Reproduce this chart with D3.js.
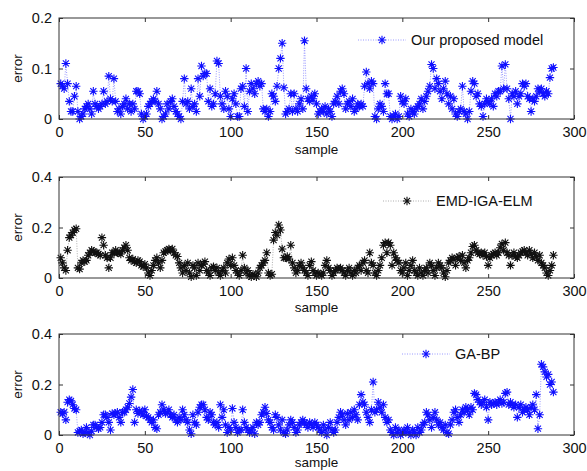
<!DOCTYPE html>
<html>
<head>
<meta charset="utf-8">
<script src="https://cdn.jsdelivr.net/npm/d3@7"></script>
<style>
  body { margin: 0; background: #fff; }
  text { font-family: Arial, "Liberation Sans", sans-serif; }
</style>
</head>
<body>
<div id="chart"></div>
<script>
// error per sample (samples 1..288)
const ourModel = [
  0.07, 0.065, 0.06, 0.11, 0.07, 0.035, 0.015, 0.015, 0.045, 0.065,
  0.015, 0.0, 0.005, 0.01, 0.02, 0.025, 0.03, 0.02, 0.01, 0.055,
  0.03, 0.025, 0.02, 0.025, 0.03, 0.055, 0.03, 0.035, 0.085, 0.04,
  0.035, 0.08, 0.035, 0.015, 0.02, 0.01, 0.025, 0.03, 0.04, 0.02,
  0.03, 0.015, 0.03, 0.02, 0.055, 0.055, 0.05, 0.01, 0.0, 0.005,
  0.01, 0.025, 0.03, 0.035, 0.04, 0.035, 0.055, 0.03, 0.02, 0.0,
  0.005, 0.01, 0.03, 0.02, 0.035, 0.04, 0.025, 0.015, 0.01, 0.005,
  0.0, 0.035, 0.08, 0.03, 0.035, 0.02, 0.06, 0.025, 0.03, 0.015,
  0.08, 0.045, 0.105, 0.085, 0.09, 0.09, 0.035, 0.06, 0.025, 0.03,
  0.05, 0.115, 0.11, 0.045, 0.03, 0.02, 0.055, 0.045, 0.02, 0.005,
  0.04, 0.05, 0.03, 0.005, 0.005, 0.06, 0.065, 0.025, 0.1, 0.015,
  0.055, 0.07, 0.06, 0.05, 0.07, 0.075, 0.065, 0.07, 0.02, 0.015,
  0.02, 0.005, 0.015, 0.05, 0.045, 0.035, 0.065, 0.1, 0.12, 0.15,
  0.062, 0.01, 0.015, 0.02, 0.05, 0.015, 0.05, 0.02, 0.015, 0.03,
  0.04, 0.02, 0.155, 0.06, 0.04, 0.035, 0.045, 0.04, 0.05, 0.03,
  0.01, 0.015, 0.02, 0.015, 0.025, 0.01, 0.02, 0.015, 0.005, 0.03,
  0.035, 0.045, 0.03, 0.055, 0.06, 0.05, 0.02, 0.03, 0.035, 0.025,
  0.04, 0.015, 0.02, 0.03, 0.025, 0.03, 0.025, 0.065, 0.093, 0.07,
  0.06, 0.075, 0.07, 0.005, 0.0, 0.02, 0.03, 0.025, 0.015, 0.07,
  0.05, 0.05, 0.005, 0.0, 0.005, 0.01, 0.0, 0.005, 0.045, 0.035,
  0.03, 0.04, 0.01, 0.005, 0.02, 0.015, 0.01, 0.02, 0.025, 0.03,
  0.04, 0.02, 0.035, 0.045, 0.055, 0.065, 0.108, 0.1, 0.06, 0.08,
  0.07, 0.055, 0.04, 0.06, 0.075, 0.05, 0.03, 0.045, 0.02, 0.04,
  0.01, 0.005, 0.015, 0.02, 0.065, 0.015, 0.01, 0.0, 0.015, 0.055,
  0.075, 0.07, 0.045, 0.05, 0.03, 0.025, 0.005, 0.03, 0.04, 0.035,
  0.03, 0.04, 0.025, 0.05, 0.045, 0.055, 0.055, 0.105, 0.06, 0.108,
  0.06, 0.04, 0.0, 0.05, 0.045, 0.055, 0.03, 0.045, 0.05, 0.07,
  0.065, 0.07, 0.045, 0.04, 0.015, 0.04, 0.035, 0.045, 0.06, 0.055,
  0.06, 0.05, 0.045, 0.055, 0.05, 0.082, 0.1, 0.102
];

const emdIgaElm = [
  0.08, 0.06, 0.04, 0.03, 0.11, 0.16, 0.17, 0.18, 0.19, 0.195,
  0.04, 0.035, 0.06, 0.07, 0.065, 0.07, 0.09, 0.1, 0.11, 0.105,
  0.1, 0.1, 0.095, 0.09, 0.16, 0.13, 0.09, 0.08, 0.04, 0.08,
  0.1, 0.1, 0.11, 0.1, 0.1, 0.095, 0.11, 0.12, 0.13, 0.11,
  0.08, 0.07, 0.075, 0.065, 0.06, 0.07, 0.065, 0.05, 0.045, 0.055,
  0.04, 0.02, 0.01, 0.03, 0.05, 0.07, 0.08, 0.06, 0.04, 0.07,
  0.1, 0.105, 0.11, 0.115, 0.11, 0.115, 0.1, 0.09, 0.085, 0.06,
  0.04, 0.02, 0.05, 0.03, 0.06, 0.02, 0.005, 0.05, 0.04, 0.01,
  0.06, 0.03, 0.05, 0.055, 0.065, 0.03, 0.02, 0.01, 0.04, 0.045,
  0.03, 0.04, 0.02, 0.01, 0.03, 0.04, 0.02, 0.06, 0.075, 0.05,
  0.08, 0.05, 0.03, 0.02, 0.01, 0.03, 0.09, 0.04, 0.02, 0.03,
  0.01, 0.005, 0.015, 0.01, 0.005, 0.02, 0.04, 0.05, 0.06, 0.07,
  0.1, 0.02, 0.01, 0.015, 0.15, 0.18, 0.17, 0.21, 0.19, 0.115,
  0.08, 0.08, 0.085, 0.075, 0.13, 0.06, 0.04, 0.02, 0.03, 0.05,
  0.06, 0.04, 0.03, 0.02, 0.01, 0.05, 0.065, 0.03, 0.02, 0.01,
  0.02, 0.015, 0.01, 0.02, 0.05, 0.07, 0.04, 0.03, 0.01, 0.02,
  0.03, 0.04, 0.035, 0.04, 0.03, 0.02, 0.01, 0.03, 0.04, 0.02,
  0.01, 0.03, 0.02, 0.04, 0.05, 0.03, 0.06, 0.07, 0.03, 0.02,
  0.1, 0.06, 0.05, 0.02, 0.01, 0.03, 0.05, 0.08, 0.13, 0.14,
  0.1, 0.14, 0.13, 0.05, 0.1, 0.08, 0.07, 0.06, 0.03, 0.02,
  0.04, 0.06, 0.01, 0.03, 0.05, 0.07, 0.03, 0.02, 0.01, 0.04,
  0.02, 0.01, 0.03, 0.04, 0.02, 0.06, 0.05, 0.03, 0.01, 0.04,
  0.06, 0.05, 0.04, 0.02, 0.005, 0.03, 0.06, 0.07, 0.08, 0.075,
  0.05, 0.08, 0.085, 0.07, 0.09, 0.06, 0.04, 0.07, 0.08, 0.1,
  0.125, 0.13, 0.11, 0.1, 0.095, 0.1, 0.09, 0.1, 0.085, 0.05,
  0.08, 0.09, 0.095, 0.1, 0.09, 0.1, 0.12, 0.135, 0.11, 0.14,
  0.1, 0.09, 0.05, 0.09, 0.1, 0.085, 0.08, 0.09, 0.1, 0.105,
  0.11, 0.1, 0.09, 0.11, 0.095, 0.08, 0.1, 0.085, 0.07, 0.09,
  0.06, 0.05, 0.04, 0.02, 0.01, 0.03, 0.05, 0.09
];

const gaBp = [
  0.09, 0.085, 0.09, 0.06, 0.13, 0.14, 0.135, 0.12, 0.105, 0.1,
  0.01, 0.015, 0.02, 0.005, 0.01, 0.03, 0.01, 0.0, 0.015, 0.04,
  0.04, 0.03, 0.025, 0.03, 0.05, 0.08, 0.08, 0.07, 0.05, 0.02,
  0.085, 0.08, 0.085, 0.09, 0.07, 0.05, 0.09, 0.09, 0.1, 0.11,
  0.125, 0.15, 0.18, 0.05, 0.1, 0.085, 0.095, 0.09, 0.08, 0.1,
  0.075, 0.07, 0.06, 0.05, 0.06, 0.03, 0.025, 0.08, 0.09, 0.12,
  0.1, 0.085, 0.09, 0.1, 0.08, 0.07, 0.08, 0.06, 0.05, 0.07,
  0.06, 0.1, 0.08, 0.06, 0.05, 0.02, 0.005, 0.08, 0.05, 0.04,
  0.09, 0.11, 0.12, 0.12, 0.1, 0.07, 0.06, 0.09, 0.08, 0.05,
  0.04, 0.05, 0.03, 0.12, 0.07, 0.1, 0.04, 0.01, 0.03, 0.02,
  0.105, 0.05, 0.03, 0.01, 0.02, 0.02, 0.1, 0.05, 0.03, 0.02,
  0.01, 0.02, 0.03, 0.005, 0.05, 0.04, 0.05, 0.08, 0.09, 0.11,
  0.085, 0.06, 0.05, 0.03, 0.02, 0.08, 0.07, 0.04, 0.02, 0.06,
  0.01, 0.005, 0.02, 0.04, 0.06, 0.05, 0.03, 0.01, 0.02, 0.04,
  0.05, 0.06, 0.05, 0.04, 0.03, 0.05, 0.04, 0.03, 0.05, 0.04,
  0.03, 0.02, 0.01, 0.04, 0.02, 0.0, 0.03, 0.05, 0.02, 0.01,
  0.02, 0.05, 0.07, 0.09, 0.08, 0.06, 0.04, 0.085, 0.06, 0.09,
  0.07, 0.1, 0.08, 0.06, 0.12, 0.16, 0.13, 0.12, 0.09, 0.07,
  0.05, 0.1, 0.21, 0.09, 0.1, 0.13, 0.11, 0.09, 0.12, 0.07,
  0.05, 0.06, 0.02, 0.01, 0.0, 0.03, 0.01, 0.02, 0.0, 0.01,
  0.02, 0.01, 0.03, 0.01, 0.0, 0.02, 0.01, 0.0, 0.03, 0.01,
  0.02, 0.04, 0.05, 0.09, 0.08, 0.06, 0.03, 0.07, 0.09, 0.06,
  0.04, 0.05, 0.03, 0.02, 0.04, 0.01, 0.005, 0.04, 0.06, 0.09,
  0.1, 0.07, 0.05, 0.08, 0.1, 0.09, 0.11, 0.1, 0.08, 0.11,
  0.1, 0.165, 0.16, 0.14, 0.13, 0.12, 0.13, 0.14, 0.11, 0.06,
  0.13, 0.12, 0.125, 0.13, 0.12, 0.13, 0.14, 0.125, 0.13, 0.165,
  0.17, 0.12, 0.13, 0.12, 0.11, 0.12, 0.07, 0.11, 0.12, 0.09,
  0.1, 0.11, 0.1, 0.08, 0.11, 0.12, 0.1, 0.16, 0.025, 0.08,
  0.28, 0.27, 0.25, 0.23, 0.24, 0.2, 0.21, 0.17
];

const xTicks = [0, 50, 100, 150, 200, 250, 300];

const panels = [
  { name: "Our proposed model", values: ourModel, yMax: 0.2, yTicks: [0, 0.1, 0.2],
    color: "#1010ff", lineColor: "#8080ff", top: 18, legendX: 358, legendY: 40, sampleY: 154 },
  { name: "EMD-IGA-ELM", values: emdIgaElm, yMax: 0.4, yTicks: [0, 0.2, 0.4],
    color: "#111111", lineColor: "#999999", top: 177, legendX: 383, legendY: 201, sampleY: 312 },
  { name: "GA-BP", values: gaBp, yMax: 0.4, yTicks: [0, 0.2, 0.4],
    color: "#1010ff", lineColor: "#8080ff", top: 334, legendX: 402, legendY: 354, sampleY: 467 }
];

const width = 587, height = 471;
const left = 59, right = 574, plotH = 101;

const svg = d3.select("#chart").append("svg")
  .attr("width", width)
  .attr("height", height);

const x = d3.scaleLinear().domain([0, 300]).range([left, right]);

// matlab style '*' marker: plus + cross
function star(cx, cy, r) {
  const d = r * 0.72;
  return `M${cx - r},${cy}L${cx + r},${cy}M${cx},${cy - r}L${cx},${cy + r}` +
    `M${cx - d},${cy - d}L${cx + d},${cy + d}M${cx - d},${cy + d}L${cx + d},${cy - d}`;
}

panels.forEach(p => {
  const y = d3.scaleLinear().domain([0, p.yMax]).range([p.top + plotH, p.top]);
  const g = svg.append("g");
  const pts = p.values.map((v, i) => [i + 1, v]);

  // dotted connecting line
  g.append("path")
    .datum(pts)
    .attr("fill", "none")
    .attr("stroke", p.lineColor)
    .attr("stroke-width", 0.8)
    .attr("stroke-dasharray", "1,1.5")
    .attr("d", d3.line().x(d => x(d[0])).y(d => y(d[1])));

  g.append("g")
    .selectAll("path")
    .data(pts)
    .join("path")
    .attr("d", d => star(x(d[0]), y(d[1]), 4.2))
    .attr("stroke", p.color)
    .attr("stroke-width", 1.1)
    .attr("fill", "none");

  // frame
  g.append("rect")
    .attr("x", left).attr("y", p.top)
    .attr("width", right - left).attr("height", plotH)
    .attr("fill", "none")
    .attr("stroke", "#333")
    .attr("stroke-width", 1);

  const xb = d3.axisBottom(x).tickValues(xTicks).tickSizeInner(-4).tickSizeOuter(0).tickPadding(8);
  const xt = d3.axisTop(x).tickValues(xTicks).tickSizeInner(-4).tickSizeOuter(0).tickFormat("");
  const yl = d3.axisLeft(y).tickValues(p.yTicks).tickSizeInner(-4).tickSizeOuter(0).tickPadding(7)
    .tickFormat(d => d === 0 ? "0" : String(d));
  const yr = d3.axisRight(y).tickValues(p.yTicks).tickSizeInner(-4).tickSizeOuter(0).tickFormat("");

  [[xb, `translate(0,${p.top + plotH})`], [xt, `translate(0,${p.top})`],
   [yl, `translate(${left},0)`], [yr, `translate(${right},0)`]].forEach(([ax, tr]) => {
    const a = g.append("g").attr("transform", tr).call(ax);
    a.select(".domain").remove();
    a.selectAll("line").attr("stroke", "#333");
    a.selectAll("text").attr("font-size", 14.5).attr("fill", "#111")
      .attr("font-family", "Arial, 'Liberation Sans', sans-serif");
  });

  g.append("text")
    .attr("transform", `translate(22,${p.top + plotH / 2}) rotate(-90)`)
    .attr("text-anchor", "middle")
    .attr("font-size", 13.5)
    .attr("fill", "#111")
    .text("error");

  g.append("text")
    .attr("x", (left + right) / 2)
    .attr("y", p.sampleY)
    .attr("text-anchor", "middle")
    .attr("font-size", 13.5)
    .attr("fill", "#111")
    .text("sample");

  // legend
  const lg = g.append("g");
  lg.append("line")
    .attr("x1", p.legendX).attr("x2", p.legendX + 48)
    .attr("y1", p.legendY).attr("y2", p.legendY)
    .attr("stroke", p.lineColor)
    .attr("stroke-width", 0.8)
    .attr("stroke-dasharray", "1,1.5");
  lg.append("path")
    .attr("d", star(p.legendX + 24, p.legendY, 4.2))
    .attr("stroke", p.color)
    .attr("stroke-width", 1.1)
    .attr("fill", "none");
  lg.append("text")
    .attr("x", p.legendX + 53)
    .attr("y", p.legendY + 5)
    .attr("font-size", 14.5)
    .attr("fill", "#111")
    .text(p.name);
});
</script>
</body>
</html>
